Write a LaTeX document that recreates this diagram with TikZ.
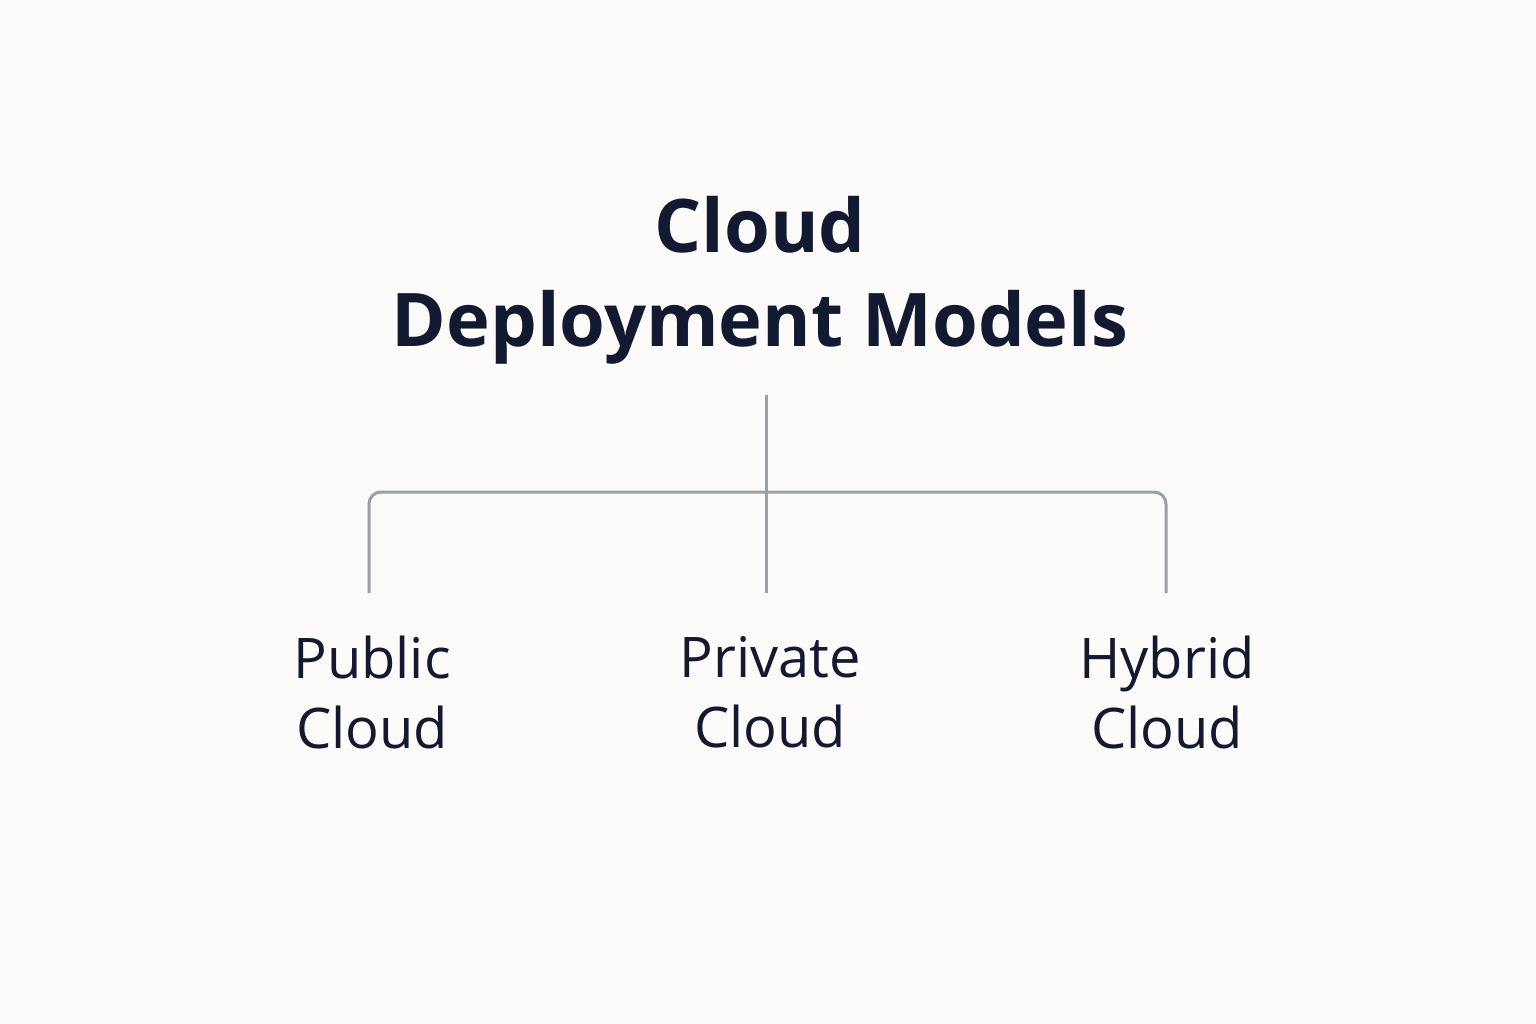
\documentclass[tikz,border=0pt]{standalone}
\usepackage{fontspec}
\setmainfont{Open Sans}
\definecolor{bg}{HTML}{FCFBF9}
\definecolor{ink}{HTML}{111A30}
\definecolor{ln}{HTML}{9AA0A8}
\begin{document}
\begin{tikzpicture}[x=1pt,y=-1pt,
  title/.style={text=ink,font=\fontsize{74}{94}\selectfont\bfseries,align=center},
  lab/.style={text=ink,font=\fontsize{56}{70}\selectfont,align=center},
  conn/.style={draw=ln,line width=3pt,rounded corners=12pt}]
\fill[bg] (0,0) rectangle (1536,1024);
\useasboundingbox (0,0) rectangle (1536,1024);
\node[title] (t) at (760,280) {Cloud\\Deployment Models};
\coordinate (top) at (766,395);
\coordinate (mid) at (766,492);
\node[lab] (pub) at (372,692) {Public\\Cloud};
\node[lab] (pri) at (770,692) {Private\\Cloud};
\node[lab] (hyb) at (1167,692) {Hybrid\\Cloud};
\coordinate (a) at (369,593);
\coordinate (b) at (766,593);
\coordinate (c) at (1166,593);
\draw[conn] (a) -- (369,492) -- (1166,492) -- (c);
\draw[conn] (top) -- (b);
\end{tikzpicture}
\end{document}
